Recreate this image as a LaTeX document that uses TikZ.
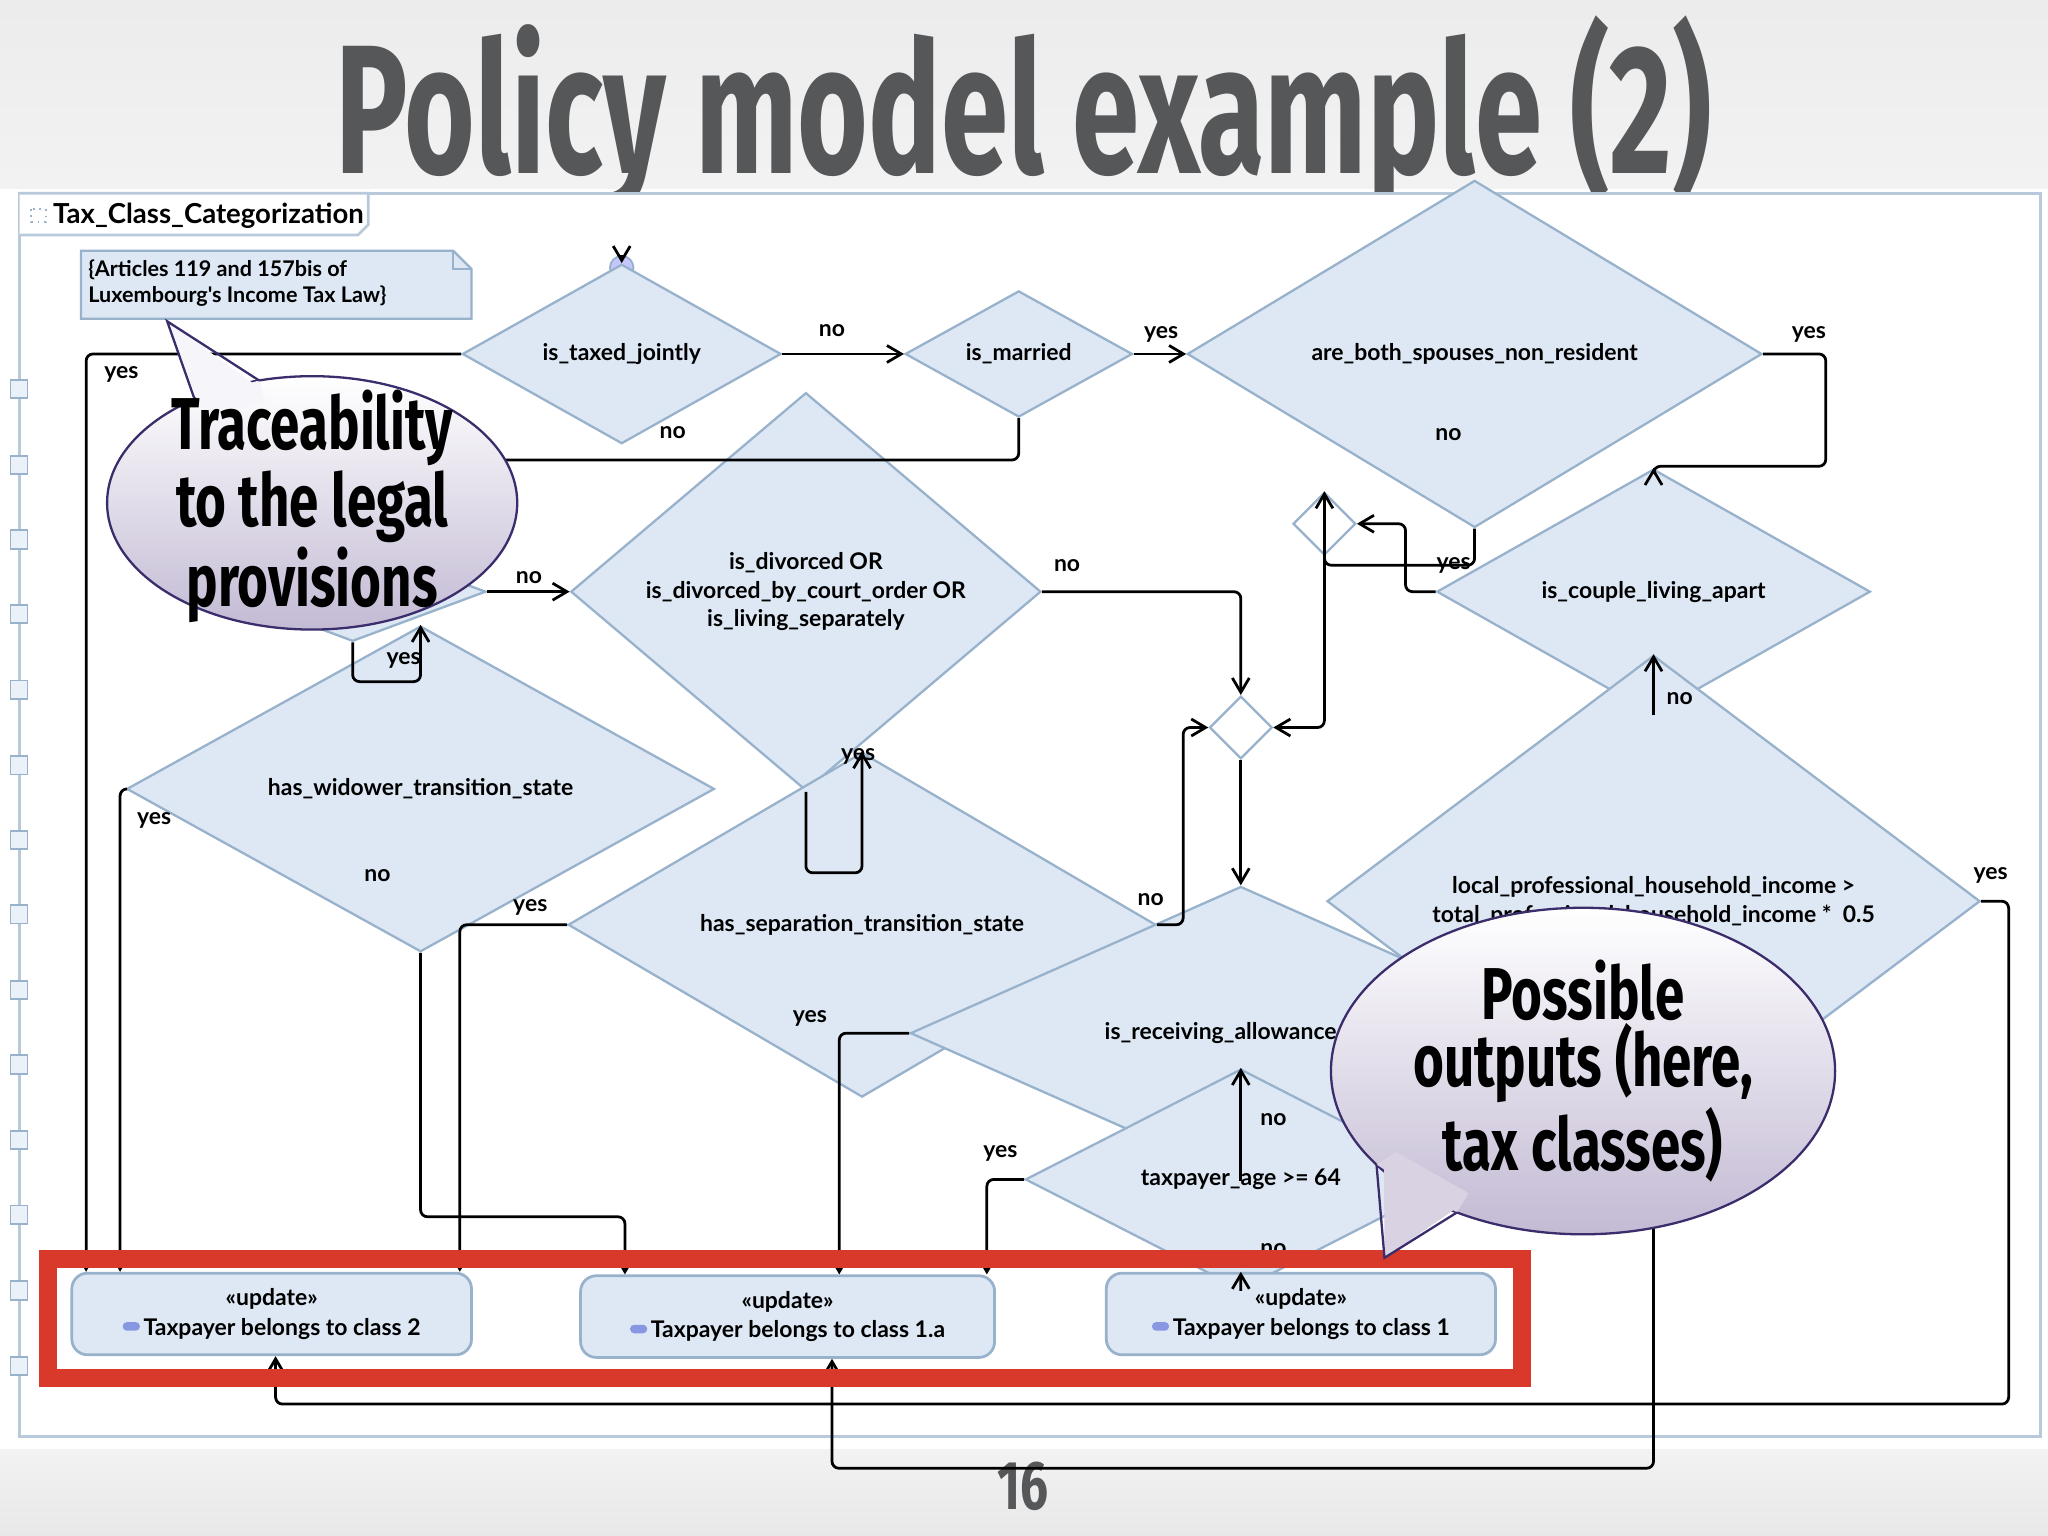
\documentclass[tikz,border=0pt]{standalone}
\usepackage{fontspec}
\usetikzlibrary{shapes.geometric,arrows.meta,calc}
\newfontfamily\dfont{Lato}
\newfontfamily\condfont[FakeStretch=0.66]{Fira Sans}
\newfontfamily\callfont[FakeStretch=0.72]{Fira Sans}
\definecolor{dfill}{HTML}{DDE8F4}
\definecolor{dline}{HTML}{98B2CC}
\definecolor{redbox}{HTML}{D8392B}
\definecolor{cedge}{HTML}{3B2D6B}
\definecolor{cbot}{HTML}{C3BAD4}
\definecolor{titlegray}{HTML}{555759}
\tikzset{
  dia/.style={diamond, draw=dline, fill=dfill, line width=0.5pt, inner sep=0pt, align=center, font=\dfont\bfseries\fontsize{5pt}{6.2pt}\selectfont},
  act/.style={rectangle, rounded corners=1.2mm, draw=dline, fill=dfill, line width=0.6pt, align=center, font=\dfont\bfseries\fontsize{5pt}{6.5pt}\selectfont},
  conn/.style={line width=0.6pt, rounded corners=1.5pt, -{Straight Barb[length=1.1mm,width=1.3mm]}},
  lab/.style={font=\dfont\bfseries\fontsize{5pt}{6pt}\selectfont, inner sep=0pt},
  icon/.style={fill=dline!80!blue, rounded corners=0.4mm}
}
\newcommand{\pill}{\tikz[baseline=-0.4ex]\fill[dline!70!blue!80, rounded corners=0.3mm] (0,0) rectangle (1.3mm,0.65mm);\,}
\begin{document}
\begin{tikzpicture}[x=0.1mm,y=-0.1mm]
\useasboundingbox (0,0) rectangle (1568,1176);
% background
\fill[top color=white!85!gray, bottom color=white!90!gray] (0,0) rectangle (1568,145);
\fill[white] (0,145) rectangle (1568,1110);
\fill[top color=white!90!gray, bottom color=white!82!gray] (0,1110) rectangle (1568,1176);
\node[font=\condfont\bfseries\fontsize{40pt}{40pt}\selectfont, text=titlegray] (title) at (784,88) {Policy model example (2)};
\node[font=\callfont\bfseries\fontsize{15pt}{15pt}\selectfont, text=titlegray] (pagenum) at (783,1138) {16};
% frame
\draw[dline!70, line width=0.6pt, fill=white] (15,148) rectangle (1562,1100);
\draw[dline!70, line width=0.6pt, fill=white] (15,148) -- (282,148) -- (282,172) -- (274,180) -- (15,180);
\draw[dline, line width=0.4pt, densely dotted] (24,160) rectangle (35,170);
\node[font=\dfont\bfseries\fontsize{6pt}{7pt}\selectfont, anchor=west, inner sep=0pt] (tab) at (40,165) {Tax\_Class\_Categorization};
\foreach \yy in {298,356,413,470,528,586,643,700,758,815,873,930,988,1046}
  \draw[dline, fill=dfill!60, line width=0.4pt] (8,\yy-7) rectangle (21,\yy+7);
% note
\draw[dline, fill=dfill, line width=0.5pt] (62,192) -- (347,192) -- (361,206) -- (361,244) -- (62,244) -- cycle;
\draw[dline, line width=0.5pt] (347,192) -- (347,206) -- (361,206);
\node[font=\dfont\bfseries\fontsize{4.7pt}{5.6pt}\selectfont, anchor=west, align=left, inner sep=0pt] (note) at (67,217) {\{Articles 119 and 157bis of\\Luxembourg's Income Tax Law\}};
% start
\node[circle, fill=dfill!40!blue!35, draw=dline, minimum size=1.8mm, inner sep=0pt] (start) at (476,205) {};
% diamonds
\node[dia, minimum width=24.4mm, minimum height=8mm] (D1) at (476,271) {is\_taxed\_jointly};
\node[dia, minimum width=17.4mm, minimum height=8mm] (D2) at (780,271) {is\_married};
\node[dia, minimum width=44mm, minimum height=9.7mm] (D3) at (1129,271) {are\_both\_spouses\_non\_resident};
\node[dia, minimum width=20.4mm, minimum height=7.6mm] (D4) at (270,453) {};
\node[dia, minimum width=36mm, minimum height=16mm] (D5) at (617,453) {is\_divorced OR\\is\_divorced\_by\_court\_order OR\\is\_living\_separately};
\node[dia, fill=white, minimum width=4.8mm, minimum height=4.8mm] (D6) at (1014,401) {};
\node[dia, minimum width=33.2mm, minimum height=9.4mm] (D7) at (1266,453) {is\_couple\_living\_apart};
\node[dia, fill=white, minimum width=4.8mm, minimum height=4.8mm] (D8) at (950,557) {};
\node[dia, minimum width=45mm, minimum height=8.6mm] (D9) at (322,604) {has\_widower\_transition\_state};
\node[dia, minimum width=50mm, minimum height=24mm] (D10) at (1266,690) {local\_professional\_household\_income >\\total\_professional\_household\_income * \ 0.5};
\node[dia, minimum width=45mm, minimum height=11.4mm] (D11) at (660,708) {has\_separation\_transition\_state};
\node[dia, minimum width=50.6mm, minimum height=10mm] (D12) at (950,791) {is\_receiving\_allowance\_for};
\node[dia, minimum width=33mm, minimum height=7.4mm] (D13) at (950,903) {taxpayer\_age >= 64};
% actions
\node[act, minimum width=30.6mm, minimum height=6.1mm] (A2) at (208,1006) {«update»\\\pill Taxpayer belongs to class 2};
\node[act, minimum width=31.7mm, minimum height=6.1mm] (A1a) at (603,1008) {«update»\\\pill Taxpayer belongs to class 1.a};
\node[act, minimum width=29.8mm, minimum height=6.1mm] (A1) at (996,1006) {«update»\\\pill Taxpayer belongs to class 1};
% connectors
\draw[conn] (start) -- (D1.north);
\draw[conn] (D1.east) -- (D2.west);
\draw[conn] (D1.west) -| ([xshift=1.2mm]A2.north west);
\draw[conn] (D2.south) -- ++(0,32) -| (D4.north);
\draw[conn] (D2.east) -- (D3.west);
\draw[conn] (D3.east) -- ++(48,0) -- ++(0,86) -| (D7.north);
\draw[conn] (D3.south) -- ++(0,28) -| (D6.north);
\draw[conn] (D7.west) -- ++(-23,0) |- (D6.east);
\draw[conn] (D6.south) |- (D8.east);
\draw[conn] (D5.east) -| (D8.north);
\draw[conn] (D4.east) -- (D5.west);
\draw[conn] (D4.south) -- ++(0,30) -| (D9.north);
\draw[conn] (D5.south) -- ++(0,62) -| (D11.north);
\draw[conn] (D9.west) -| ([xshift=3.8mm]A2.north west);
\draw[conn] (D9.south) -- ++(0,202) -| ([xshift=3.5mm]A1a.north west);
\draw[conn] (D11.west) -| ([xshift=-1mm]A2.north east);
\draw[conn] (D11.east) -- ++(20,0) |- (D8.west);
\draw[conn] (D8.south) -- (D12.north);
\draw[conn] (D12.west) -| ([xshift=-12mm]A1a.north east);
\draw[conn] (D12.south) -- (D13.north);
\draw[conn] (D13.west) -| ([xshift=-0.7mm]A1a.north east);
\draw[conn] (D13.south) -- ([xshift=-4.6mm]A1.north);
\draw[conn] (D7.south) -- (D10.north);
\draw[conn] (D10.east) -- ++(21,0) -- ++(0,385) -| ([xshift=0.3mm]A2.south);
\draw[conn] (D10.south) -- ++(0,245) -| ([xshift=3.4mm]A1a.south);
% labels
\node[lab] (l1) at (637,253) {no};
\node[lab] (l2) at (93,287) {yes};
\node[lab] (l3) at (515,331) {no};
\node[lab] (l4) at (889,256) {yes};
\node[lab] (l5) at (1385,256) {yes};
\node[lab] (l6) at (1109,333) {no};
\node[lab] (l7) at (1113,433) {yes};
\node[lab] (l8) at (817,433) {no};
\node[lab] (l9) at (405,442) {no};
\node[lab] (l10) at (309,506) {yes};
\node[lab] (l11) at (657,579) {yes};
\node[lab] (l12) at (118,628) {yes};
\node[lab] (l13) at (289,670) {no};
\node[lab] (l14) at (406,695) {yes};
\node[lab] (l15) at (881,689) {no};
\node[lab] (l16) at (620,780) {yes};
\node[lab] (l17) at (975,857) {no};
\node[lab] (l18) at (766,883) {yes};
\node[lab] (l19) at (975,957) {no};
\node[lab] (l20) at (1286,535) {no};
\node[lab] (l21) at (1524,670) {yes};
% red box
\draw[redbox, line width=1.4mm] (37,964) rectangle (1165,1055);
% callout 1
\coordinate (c1) at (239,385);
\shade[top color=white, bottom color=cbot, draw=cedge, line width=0.5pt] (c1) ellipse [x radius=157, y radius=97];
\fill[white!85!cbot] ($(c1)+(235:150 and 90)$) -- (128,246) -- ($(c1)+(255:150 and 90)$) -- cycle;
\fill[white!85!cbot] ($(c1)+(235:157 and 97)$) -- ($(c1)+(235:140 and 80)$) -- ($(c1)+(255:140 and 80)$) -- ($(c1)+(255:157 and 97)$) -- cycle;
\draw[cedge, line width=0.5pt] ($(c1)+(235:157 and 97)$) -- (128,246) -- ($(c1)+(255:157 and 97)$);
\node[font=\callfont\bfseries\fontsize{16pt}{14.5pt}\selectfont, align=center] (t1) at (239,388) {Traceability\\to the legal\\provisions};
% callout 2
\coordinate (c2) at (1212,820);
\shade[top color=white, bottom color=cbot, draw=cedge, line width=0.5pt] (c2) ellipse [x radius=193, y radius=125];
\fill[white!35!cbot] ($(c2)+(120:186 and 118)$) -- (1060,963) -- ($(c2)+(145:186 and 118)$) -- cycle;
\fill[white!35!cbot] ($(c2)+(120:193 and 125)$) -- ($(c2)+(120:175 and 108)$) -- ($(c2)+(145:175 and 108)$) -- ($(c2)+(145:193 and 125)$) -- cycle;
\draw[cedge, line width=0.5pt] ($(c2)+(120:193 and 125)$) -- (1060,963) -- ($(c2)+(145:193 and 125)$);
\node[font=\callfont\bfseries\fontsize{16pt}{14.5pt}\selectfont, align=center] (t2) at (1212,820) {Possible\\outputs (here,\\tax classes)};
\end{tikzpicture}
\end{document}
